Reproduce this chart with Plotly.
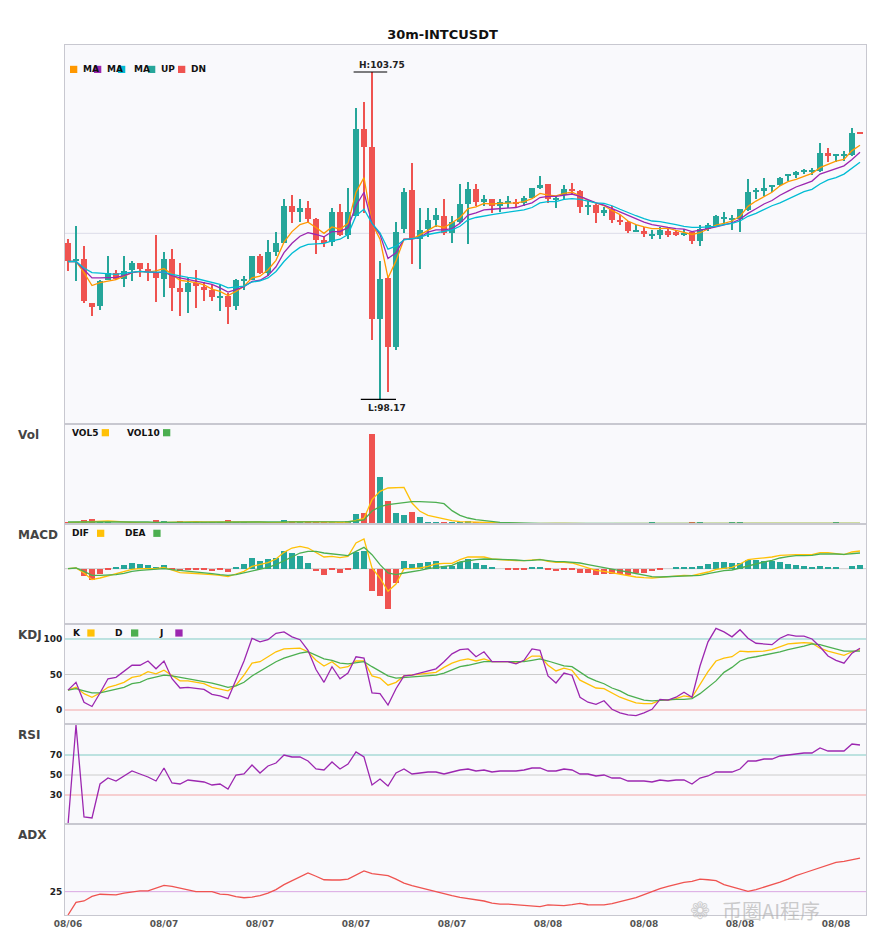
import plotly.graph_objects as go
from plotly.subplots import make_subplots

# candles (index 0 = first bar on the left)
opens = [100.83, 100.52, 100.57, 99.82, 99.76, 100.20, 100.33, 100.23, 100.37, 100.49,
         100.40, 100.33, 100.22, 100.57, 100.06, 100.00, 100.15, 100.09, 100.03, 99.91,
         99.94, 99.76, 100.20, 100.21, 100.61, 100.33, 100.68, 100.83, 101.47, 101.36,
         101.43, 101.24, 100.88, 100.85, 101.36, 100.98, 101.30, 102.78, 102.47, 99.54,
         100.24, 99.06, 101.07, 101.74, 100.90, 101.07, 101.23, 101.29, 101.01, 101.20,
         101.50, 101.76, 101.54, 101.58, 101.47, 101.52, 101.54, 101.52, 101.61, 101.77,
         101.84, 101.58, 101.65, 101.76, 101.72, 101.45, 101.48, 101.34, 101.42, 101.22,
         101.20, 101.03, 101.04, 100.97, 100.97, 101.04, 101.03, 100.98, 101.02, 100.87,
         101.07, 101.12, 101.26, 101.24, 101.24, 101.40, 101.72, 101.72, 101.80, 101.82,
         101.97, 102.01, 102.05, 102.05, 102.06, 102.37, 102.32, 102.32, 102.33, 102.71]
highs = [100.91, 101.12, 100.79, 99.82, 100.21, 100.62, 100.38, 100.61, 100.52, 100.50,
         100.50, 100.98, 100.68, 100.74, 100.49, 100.24, 100.37, 100.17, 100.14, 100.12,
         99.99, 100.23, 100.28, 100.62, 100.64, 100.88, 101.03, 101.58, 101.65, 101.59,
         101.55, 101.26, 100.95, 101.43, 101.50, 101.77, 103.14, 103.24, 103.75, 100.53,
         100.25, 101.20, 101.77, 102.20, 101.43, 101.43, 101.43, 101.58, 101.29, 101.84,
         101.88, 101.84, 101.65, 101.59, 101.58, 101.63, 101.58, 101.64, 101.78, 101.97,
         101.84, 101.64, 101.82, 101.85, 101.74, 101.55, 101.50, 101.45, 101.46, 101.32,
         101.21, 101.15, 101.10, 101.05, 101.10, 101.07, 101.05, 101.07, 101.04, 101.14,
         101.17, 101.31, 101.37, 101.32, 101.42, 101.92, 101.78, 101.95, 101.82, 101.96,
         102.01, 102.06, 102.09, 102.12, 102.54, 102.45, 102.36, 102.40, 102.79, 102.73]
lows = [100.36, 100.18, 99.82, 99.59, 99.69, 100.20, 100.21, 100.08, 100.18, 100.26,
        100.18, 99.83, 99.91, 99.67, 99.59, 99.64, 99.72, 99.85, 99.85, 99.67,
        99.46, 99.70, 100.03, 100.21, 100.30, 100.28, 100.61, 100.83, 101.18, 101.20,
        101.18, 100.65, 100.76, 100.78, 100.95, 100.90, 101.29, 101.35, 99.19, 98.17,
        98.29, 99.01, 101.01, 100.48, 100.40, 100.93, 101.10, 100.98, 100.84, 101.18,
        100.82, 101.47, 101.47, 101.35, 101.36, 101.44, 101.44, 101.47, 101.61, 101.75,
        101.52, 101.44, 101.58, 101.65, 101.34, 101.32, 101.17, 101.29, 101.17, 101.14,
        101.00, 101.02, 100.94, 100.90, 100.90, 100.94, 100.95, 100.95, 100.81, 100.78,
        101.04, 101.11, 101.14, 101.06, 101.02, 101.38, 101.59, 101.64, 101.70, 101.81,
        101.89, 101.94, 102.01, 101.99, 102.05, 102.21, 102.21, 102.24, 102.32, 102.69]
closes = [100.53, 100.57, 99.84, 99.75, 100.19, 100.33, 100.23, 100.35, 100.49, 100.40,
          100.36, 100.24, 100.57, 100.06, 100.00, 100.15, 100.10, 100.04, 99.92, 99.94,
          99.74, 100.20, 100.21, 100.61, 100.32, 100.68, 100.83, 101.47, 101.36, 101.43,
          101.24, 100.88, 100.85, 101.36, 100.98, 101.36, 102.77, 102.48, 99.54, 100.23,
          99.06, 101.03, 101.71, 100.90, 101.05, 101.22, 101.31, 101.01, 101.20, 101.50,
          101.76, 101.54, 101.59, 101.47, 101.54, 101.54, 101.50, 101.61, 101.77, 101.82,
          101.58, 101.61, 101.76, 101.72, 101.45, 101.48, 101.34, 101.39, 101.23, 101.21,
          101.04, 101.04, 100.99, 100.98, 101.06, 100.98, 100.98, 100.99, 100.87, 101.07,
          101.14, 101.30, 101.27, 101.26, 101.41, 101.70, 101.74, 101.78, 101.82, 101.95,
          102.01, 102.04, 102.08, 102.06, 102.37, 102.31, 102.34, 102.35, 102.71, 102.70]

ma_fast = [100.52, 100.52, 100.33, 100.11, 100.16, 100.18, 100.21, 100.27, 100.33, 100.35,
           100.34, 100.36, 100.40, 100.30, 100.20, 100.18, 100.16, 100.12, 100.05, 100.01,
           99.94, 100.01, 100.10, 100.24, 100.27, 100.38, 100.54, 100.85, 101.03, 101.15,
           101.19, 101.10, 101.00, 101.11, 101.07, 101.17, 101.70, 101.95, 101.17, 100.90,
           100.24, 100.53, 100.90, 100.90, 100.97, 101.05, 101.13, 101.10, 101.18, 101.27,
           101.42, 101.45, 101.51, 101.50, 101.51, 101.51, 101.52, 101.54, 101.59, 101.68,
           101.65, 101.64, 101.68, 101.70, 101.64, 101.56, 101.51, 101.47, 101.39, 101.32,
           101.21, 101.15, 101.11, 101.08, 101.08, 101.09, 101.05, 101.02, 100.98, 101.01,
           101.07, 101.14, 101.17, 101.21, 101.29, 101.46, 101.55, 101.63, 101.70, 101.81,
           101.88, 101.92, 101.97, 102.02, 102.12, 102.18, 102.23, 102.26, 102.41, 102.50]
ma_mid = [100.52, 100.52, 100.38, 100.24, 100.24, 100.24, 100.25, 100.28, 100.33, 100.35,
          100.34, 100.33, 100.34, 100.28, 100.24, 100.21, 100.19, 100.16, 100.13, 100.07,
          100.00, 100.04, 100.09, 100.18, 100.20, 100.28, 100.43, 100.67, 100.83, 100.95,
          101.01, 100.98, 100.94, 101.03, 101.03, 101.10, 101.47, 101.70, 101.17, 100.98,
          100.57, 100.67, 100.90, 100.90, 100.93, 101.02, 101.06, 101.06, 101.08, 101.17,
          101.31, 101.35, 101.40, 101.41, 101.42, 101.43, 101.44, 101.48, 101.52, 101.61,
          101.63, 101.63, 101.65, 101.67, 101.63, 101.57, 101.52, 101.48, 101.42, 101.36,
          101.30, 101.24, 101.19, 101.15, 101.12, 101.10, 101.08, 101.07, 101.03, 101.05,
          101.08, 101.11, 101.15, 101.18, 101.24, 101.34, 101.42, 101.50, 101.56, 101.65,
          101.72, 101.79, 101.84, 101.89, 102.01, 102.06, 102.11, 102.15, 102.26, 102.38]
ma_slow = [100.52, 100.52, 100.41, 100.33, 100.32, 100.31, 100.30, 100.32, 100.34, 100.35,
           100.34, 100.34, 100.34, 100.30, 100.27, 100.25, 100.23, 100.20, 100.17, 100.13,
           100.07, 100.08, 100.10, 100.17, 100.19, 100.24, 100.35, 100.52, 100.66, 100.76,
           100.81, 100.82, 100.83, 100.87, 100.90, 100.98, 101.30, 101.41, 101.17, 101.01,
           100.73, 100.78, 100.89, 100.91, 100.93, 100.98, 101.01, 101.03, 101.06, 101.12,
           101.23, 101.27, 101.30, 101.32, 101.34, 101.36, 101.38, 101.40, 101.44, 101.52,
           101.54, 101.54, 101.58, 101.59, 101.58, 101.55, 101.52, 101.51, 101.47, 101.41,
           101.35, 101.30, 101.25, 101.21, 101.20, 101.18, 101.15, 101.12, 101.10, 101.10,
           101.11, 101.12, 101.15, 101.17, 101.21, 101.29, 101.34, 101.41, 101.47, 101.52,
           101.58, 101.65, 101.71, 101.75, 101.84, 101.91, 101.95, 102.01, 102.11, 102.21]

volume = [6, 6, 13, 16, 6, 6, 2, 2, 2, 2, 2, 13, 9, 5, 9, 7, 5, 5, 6, 4,
          13, 6, 4, 3, 3, 3, 5, 13, 10, 6, 6, 5, 5, 6, 5, 10, 31, 34, 271, 140,
          70, 34, 28, 37, 22, 7, 7, 4, 7, 5, 9, 5, 2, 2, 1, 1, 1, 1, 2, 2,
          2, 1, 1, 1, 2, 1, 1, 1, 1, 1, 1, 1, 1, 4, 2, 1, 1, 1, 4, 4,
          1, 2, 1, 4, 4, 3, 3, 3, 2, 1, 1, 1, 1, 1, 1, 1, 4, 1, 1, 1]
vol5 = [4, 5, 7, 8, 9, 9, 8, 6, 3, 3, 3, 4, 5, 6, 7, 8, 7, 6, 6, 5,
        7, 7, 6, 6, 6, 4, 4, 5, 7, 7, 8, 7, 6, 6, 5, 6, 11, 17, 73, 98,
        108, 110, 110, 63, 38, 26, 20, 15, 10, 7, 6, 5, 4, 3, 2, 2, 1, 1, 1, 2,
        2, 2, 2, 1, 1, 1, 1, 1, 1, 1, 1, 1, 1, 2, 2, 2, 2, 2, 2, 3,
        3, 3, 3, 3, 3, 3, 3, 3, 3, 3, 2, 2, 1, 1, 1, 1, 2, 2, 2, 2]
vol10 = [6, 6, 7, 8, 8, 8, 7, 7, 6, 6, 6, 5, 5, 5, 5, 5, 6, 6, 6, 6,
         6, 6, 6, 5, 5, 5, 5, 5, 6, 6, 6, 6, 6, 6, 6, 7, 9, 12, 39, 52,
         58, 61, 64, 67, 67, 67, 65, 61, 40, 26, 18, 13, 10, 7, 5, 4, 3, 3, 2, 2,
         2, 2, 2, 2, 2, 1, 1, 1, 1, 1, 1, 1, 1, 1, 1, 2, 2, 2, 2, 2,
         2, 2, 2, 2, 3, 3, 3, 3, 3, 3, 3, 2, 2, 2, 2, 2, 2, 2, 2, 2]

macd_hist = [0, 0, -23, -33, -15, -2, 6, 12, 18, 15, 12, 4, 12, -2, -8, -5, -5, -5, -7, -5,
             -11, 6, 15, 33, 24, 30, 33, 54, 48, 39, 18, -8, -20, -5, -14, -5, 51, 54, -68, -83,
             -122, -44, 24, 15, 18, 21, 24, 9, 9, 19, 30, 18, 12, 3, 0, -2, -5, -2, 3, 6,
             -5, -8, -2, -2, -14, -14, -20, -17, -17, -17, -20, -14, -14, -8, -2, 0, 3, 6, 3, 9,
             15, 21, 21, 18, 18, 27, 27, 24, 24, 21, 15, 12, 9, 3, 9, 6, 3, 0, 9, 12]
dif = [0, 2, -13, -33, -28, -21, -15, -8, -2, 0, 0, 0, 4, -5, -12, -13, -14, -16, -18, -20,
       -24, -16, -8, 7, 12, 18, 29, 49, 62, 67, 62, 49, 35, 37, 33, 37, 77, 89, 2, -28,
       -68, -46, 0, 0, 2, 7, 14, 16, 16, 27, 35, 35, 35, 29, 27, 25, 24, 24, 27, 28,
       22, 19, 19, 17, 10, 2, -5, -8, -12, -16, -22, -25, -27, -28, -26, -24, -23, -20, -21, -16,
       -10, -2, 2, 4, 14, 27, 30, 32, 35, 40, 42, 42, 42, 42, 48, 48, 45, 42, 50, 53]
dea = [0, 2, -8, -20, -20, -20, -18, -14, -8, -5, -3, -1, 0, -3, -5, -8, -11, -13, -15, -18,
       -20, -18, -13, -8, -1, 4, 12, 24, 35, 47, 52, 52, 47, 44, 42, 39, 52, 64, 42, 12,
       -13, -18, -13, -10, -5, 0, 4, 6, 10, 20, 24, 27, 29, 29, 28, 27, 26, 24, 25, 27,
       24, 21, 21, 20, 17, 12, 7, 4, -1, -6, -10, -15, -20, -24, -25, -24, -23, -22, -23, -20,
       -15, -10, -6, -4, 2, 10, 16, 20, 25, 32, 36, 39, 39, 40, 44, 45, 44, 43, 45, 47]

k_line = [28, 32, 23, 18, 24, 32, 35, 39, 46, 48, 54, 51, 56, 49, 41, 41, 39, 37, 32, 30,
          27, 35, 49, 66, 68, 75, 82, 86, 86, 87, 82, 70, 62, 68, 59, 61, 69, 69, 48, 45,
          35, 39, 48, 49, 51, 52, 53, 60, 66, 70, 72, 69, 72, 68, 68, 68, 66, 69, 76, 76,
          63, 55, 59, 56, 42, 37, 31, 30, 24, 18, 14, 10, 9, 9, 14, 14, 16, 20, 18, 36,
          54, 69, 73, 75, 83, 82, 82, 83, 85, 89, 93, 94, 95, 94, 87, 83, 80, 77, 82, 85]
d_line = [28, 30, 27, 24, 24, 27, 30, 32, 37, 39, 44, 46, 49, 48, 46, 44, 42, 41, 38, 35,
          32, 34, 39, 48, 55, 61, 68, 73, 77, 80, 82, 77, 72, 70, 66, 65, 66, 68, 61, 55,
          48, 45, 46, 47, 48, 49, 49, 52, 56, 61, 63, 65, 68, 68, 68, 68, 68, 68, 70, 72,
          69, 65, 62, 61, 54, 46, 41, 37, 31, 27, 21, 17, 14, 13, 14, 14, 15, 15, 16, 23,
          32, 41, 53, 60, 69, 73, 75, 77, 79, 82, 85, 87, 90, 93, 92, 89, 86, 83, 83, 83]
j_line = [28, 39, 11, 5, 24, 44, 46, 54, 63, 63, 69, 58, 69, 44, 31, 32, 31, 29, 22, 20,
          16, 43, 69, 101, 96, 99, 108, 110, 103, 99, 84, 57, 39, 61, 44, 52, 75, 73, 24, 23,
          7, 30, 48, 49, 52, 54, 58, 68, 79, 85, 86, 75, 82, 68, 68, 68, 65, 70, 86, 84,
          48, 38, 52, 49, 18, 11, 8, 13, 1, -4, -7, -8, -4, 1, 15, 14, 18, 25, 18, 62,
          96, 115, 110, 103, 113, 101, 94, 93, 92, 101, 106, 104, 104, 100, 89, 76, 70, 66, 80, 87]

rsi = [0, 100, 8, 7, 41, 47, 44, 49, 54, 51, 48, 44, 57, 42, 41, 45, 44, 43, 40, 41,
       36, 50, 51, 60, 52, 59, 62, 70, 68, 68, 64, 56, 55, 63, 56, 61, 73, 68, 40, 46,
       39, 52, 56, 51, 52, 53, 53, 51, 53, 55, 56, 54, 55, 53, 54, 54, 54, 55, 57, 57,
       54, 54, 56, 55, 51, 51, 49, 50, 47, 47, 44, 44, 44, 43, 45, 44, 45, 45, 41, 47,
       49, 53, 53, 53, 56, 64, 64, 66, 66, 69, 70, 71, 72, 72, 77, 74, 74, 74, 81, 80]

adx = [15.0, 20.4, 21.0, 23.0, 23.9, 23.9, 23.6, 24.4, 24.9, 25.3,
       25.3, 26.4, 27.7, 27.3, 26.6, 25.9, 25.0, 25.0, 25.0, 23.9,
       23.7, 22.9, 22.4, 22.7, 23.3, 24.4, 25.9, 28.0, 29.7, 31.6,
       33.0, 31.6, 30.1, 30.0, 30.0, 30.4, 32.3, 33.9, 32.7, 32.3,
       31.9, 30.4, 28.7, 27.6, 26.7, 25.9, 25.0, 24.1, 23.3, 22.6,
       22.1, 21.4, 21.0, 20.1, 19.7, 19.7, 19.4, 19.0, 18.9, 18.6,
       19.3, 19.3, 19.0, 19.4, 20.0, 19.4, 19.3, 19.3, 19.9, 20.7,
       21.6, 22.4, 23.7, 25.1, 26.3, 27.3, 28.1, 29.0, 29.4, 30.4,
       30.1, 29.7, 28.0, 27.0, 26.1, 25.1, 25.9, 26.9, 28.0, 29.1,
       30.4, 31.9, 33.0, 34.1, 35.4, 36.6, 37.6, 38.0, 38.6, 39.4]

tick_idx = [0, 12, 24, 36, 48, 60, 72, 84, 96]
tick_text = ["08/06", "08/07", "08/07", "08/07", "08/07", "08/08", "08/08", "08/08", "08/08"]

UP = "#26a69a"
DN = "#ef5350"
FONT = "DejaVu Sans"

n = len(closes)
idx = list(range(n))
candle_col = [UP if c >= o else DN for o, c in zip(opens, closes)]
body_base = [min(o, c) for o, c in zip(opens, closes)]
body_h = [max(abs(c - o), 0.02) for o, c in zip(opens, closes)]
wick_h = [h - l for h, l in zip(highs, lows)]
hist_col = [UP if v >= 0 else DN for v in macd_hist]

fig = make_subplots(rows=6, cols=1, shared_xaxes=True, vertical_spacing=0,
                    row_heights=[379, 100, 100, 100, 100, 91])

def line(y, color, row):
    fig.add_trace(go.Scatter(x=idx, y=y, mode="lines", line=dict(color=color, width=1.3),
                             hoverinfo="skip"), row=row, col=1)

# price panel
fig.add_trace(go.Bar(x=idx, y=wick_h, base=lows, width=0.14, marker_color=candle_col,
                     marker_line_width=0), row=1, col=1)
fig.add_trace(go.Bar(x=idx, y=body_h, base=body_base, width=0.75, marker_color=candle_col,
                     marker_line_width=0), row=1, col=1)
line(ma_fast, "#ff9800", 1)
line(ma_mid, "#9c27b0", 1)
line(ma_slow, "#00bcd4", 1)

# volume
fig.add_trace(go.Bar(x=idx, y=volume, width=0.75, marker_color=candle_col,
                     marker_line_width=0), row=2, col=1)
line(vol5, "#ffc107", 2)
line(vol10, "#4caf50", 2)

# macd
fig.add_trace(go.Bar(x=idx, y=macd_hist, width=0.75, marker_color=hist_col,
                     marker_line_width=0), row=3, col=1)
line(dif, "#ffc107", 3)
line(dea, "#4caf50", 3)

# kdj
line(k_line, "#ffc107", 4)
line(d_line, "#4caf50", 4)
line(j_line, "#9c27b0", 4)

# rsi / adx
line(rsi, "#9c27b0", 5)
line(adx, "#ef5350", 6)

# reference lines
refs = [(1, 101, "#dcdce8"), (3, 0, "#cccccc"),
        (4, 100, "#80cbc4"), (4, 50, "#cccccc"), (4, 0, "#f4a5a5"),
        (5, 70, "#80cbc4"), (5, 50, "#cccccc"), (5, 30, "#f4a5a5"),
        (6, 25, "#d9a6e2")]
for r, yv, c in refs:
    fig.add_hline(y=yv, line=dict(color=c, width=1), layer="below", row=r, col=1)

# high / low markers
hi_i = highs.index(max(highs))
lo_i = lows.index(min(lows))
fig.add_shape(type="line", x0=hi_i - 2.3, x1=hi_i + 1.9, y0=highs[hi_i], y1=highs[hi_i],
              line=dict(color="black", width=1.2), row=1, col=1)
fig.add_shape(type="line", x0=lo_i - 2.4, x1=lo_i + 2.0, y0=lows[lo_i], y1=lows[lo_i],
              line=dict(color="black", width=1.2), row=1, col=1)
fig.add_annotation(x=hi_i + 1.3, y=highs[hi_i], text="<b>H:%.2f</b>" % highs[hi_i],
                   showarrow=False, yanchor="bottom", yshift=0, xref="x", yref="y",
                   font=dict(size=9, color="#222"))
fig.add_annotation(x=lo_i + 0.85, y=lows[lo_i], text="<b>L:%.2f</b>" % lows[lo_i],
                   showarrow=False, yanchor="top", yshift=-2, xref="x", yref="y",
                   font=dict(size=9, color="#222"))

# pixel helpers (screen pixels of the page) for legend keys and panel labels
def px(x):
    return (x - 65) / 801

def py(y):
    return (915 - y) / 870

def key(x_sq, y_c, color, label, x_txt):
    fig.add_shape(type="rect", xref="paper", yref="paper",
                  x0=px(x_sq), x1=px(x_sq + 7.3), y0=py(y_c + 3.6), y1=py(y_c - 3.6),
                  fillcolor=color, line_width=0, layer="above")
    fig.add_annotation(x=px(x_txt), y=py(y_c), xref="paper", yref="paper",
                       text="<b>%s</b>" % label, showarrow=False, xanchor="left",
                       yanchor="middle", font=dict(size=9, color="#111"))

key(70, 69.4, "#ff9800", "MA", 81)
key(94, 69.4, "#9c27b0", "MA", 105)
key(118, 69.4, "#00bcd4", "MA", 131.5)
key(148, 69.4, UP, "UP", 159)
key(178, 69.4, DN, "DN", 189)

key(101.7, 432.7, "#ffc107", "VOL5", 70)
key(163, 432.7, "#4caf50", "VOL10", 125)
key(97, 533.3, "#ffc107", "DIF", 70)
key(153.3, 533.3, "#4caf50", "DEA", 123)
key(87.3, 633, "#ffc107", "K", 70.5)
key(131, 633, "#4caf50", "D", 113)
key(175.3, 633, "#9c27b0", "J", 156.5)

for name, yc in [("Vol", 435), ("MACD", 535), ("KDJ", 635), ("RSI", 735), ("ADX", 835)]:
    fig.add_annotation(x=px(15.5), y=py(yc), xref="paper", yref="paper", text="<b>%s</b>" % name,
                       showarrow=False, xanchor="left", yanchor="middle",
                       font=dict(size=12, color="#444"))

# watermark
fig.add_annotation(x=px(712), y=py(927), xref="paper", yref="paper", text="\u2741",
                   showarrow=False, font=dict(size=24, color="rgba(170,170,170,0.55)"))
fig.add_annotation(x=px(822), y=py(927), xref="paper", yref="paper", text="币圈AI程序",
                   showarrow=False,
                   font=dict(size=20, color="rgba(170,170,170,0.6)", family="Noto Sans CJK SC"))

y_ranges = [[97.75, 104.21], [0, 300], [-166, 134], [-19.7, 121.1], [1, 101], [15, 54]]
y_ticks = [[], [], [], [0, 50, 100], [30, 50, 70], [25]]
for r in range(1, 7):
    fig.update_yaxes(range=y_ranges[r - 1], tickvals=y_ticks[r - 1], showgrid=False,
                     zeroline=False, showline=True, mirror=True, linecolor="#c8c8d0",
                     tickfont=dict(size=9, color="#222", weight="bold"), ticks="",
                     row=r, col=1)
    fig.update_xaxes(range=[-0.375, 99.75], showgrid=False, zeroline=False, showline=True,
                     mirror=True, linecolor="#c8c8d0", ticks="", row=r, col=1)
fig.update_xaxes(tickvals=tick_idx, ticktext=tick_text, showticklabels=True,
                 tickfont=dict(size=9, color="#555", weight="bold"), row=6, col=1)

# the page body adds an 8px margin, so the figure is 8px smaller on each side
fig.update_layout(
    width=877, height=934,
    margin=dict(l=57, r=19, t=37, b=27),
    title=dict(text="<b>30m-INTCUSDT</b>", x=0.5 - 4 / 877, xanchor="center",
               y=1 - 26 / 934, yanchor="middle", font=dict(size=13, color="#111")),
    font=dict(family=FONT),
    paper_bgcolor="white",
    plot_bgcolor="#f9f9fc",
    barmode="overlay",
    bargap=0,
    showlegend=False,
)

fig.write_html("out.html")
